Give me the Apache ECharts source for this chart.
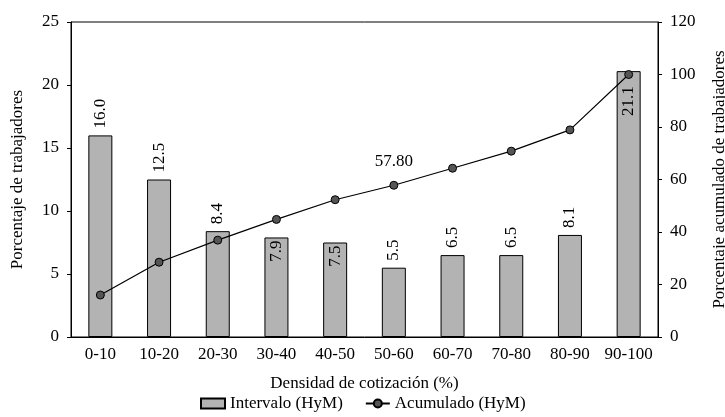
<!DOCTYPE html>
<html><head><meta charset="utf-8">
<script src="https://cdn.jsdelivr.net/npm/echarts@6/dist/echarts.min.js"></script>
<style>html,body{margin:0;padding:0;background:#fff}#c{width:725px;height:417px}</style>
</head><body><div id="c"></div>
<script>
const categories = ['0-10','10-20','20-30','30-40','40-50','50-60','60-70','70-80','80-90','90-100'];
const intervalo = [16.0, 12.5, 8.4, 7.9, 7.5, 5.5, 6.5, 6.5, 8.1, 21.1];
const acumulado = [16.0, 28.5, 36.9, 44.8, 52.3, 57.8, 64.3, 70.8, 78.9, 100.0];
const leftTicks = [0, 5, 10, 15, 20, 25];
const rightTicks = [0, 20, 40, 60, 80, 100, 120];
const insideLabelIdx = {3: 3, 4: 3, 9: 15};
const lineLabelIdx = [5];

const FONT = 'Liberation Serif';
const FS = 17;
const chart = echarts.init(document.getElementById('c'));
const barData = intervalo.map((v, i) => {
  if (insideLabelIdx[i] !== undefined) {
    return {value: v, label: {position: 'insideTop', align: 'right', distance: insideLabelIdx[i]}};
  }
  return v;
});
const lineData = acumulado.map((v, i) => lineLabelIdx.includes(i) ? {value: v, label: {show: true}} : v);

chart.setOption({
  animation: false,
  textStyle: {fontFamily: FONT, color: '#000'},
  grid: {left: 71, right: 67, top: 22, bottom: 80, containLabel: false, outerBoundsMode: 'none',
    show: true, borderColor: '#000', borderWidth: 1, backgroundColor: 'transparent'},
  legend: {
    bottom: 5, left: 200, padding: 0, itemWidth: 24, itemHeight: 10, itemGap: 22,
    textStyle: {fontFamily: FONT, fontSize: FS, color: '#000'},
    data: [
      {name: 'Intervalo (HyM)', icon: 'rect'},
      {name: 'Acumulado (HyM)'}
    ]
  },
  xAxis: {
    type: 'category', data: categories, boundaryGap: true,
    name: 'Densidad de cotización (%)', nameLocation: 'middle', nameGap: 38,
    nameTextStyle: {fontFamily: FONT, fontSize: FS, color: '#000'},
    axisLine: {lineStyle: {color: '#000', width: 1}},
    axisTick: {inside: true, length: 4, lineStyle: {color: '#000'}},
    axisLabel: {fontFamily: FONT, fontSize: FS, color: '#000', margin: 9, interval: 0}
  },
  yAxis: [
    {
      type: 'value', min: 0, max: 25, interval: 5,
      name: 'Porcentaje de trabajadores', nameLocation: 'middle', nameGap: 45, nameRotate: 90,
      nameTextStyle: {fontFamily: FONT, fontSize: FS, color: '#000'},
      axisLine: {show: true, lineStyle: {color: '#000', width: 1}},
      axisTick: {show: true, length: 4, lineStyle: {color: '#000'}},
      axisLabel: {fontFamily: FONT, fontSize: FS, color: '#000', margin: 12, formatter: v => leftTicks.includes(v) ? String(v) : ''},
      splitLine: {show: false}
    },
    {
      type: 'value', min: 0, max: 120, interval: 20, position: 'right',
      name: 'Porcentaje acumulado de trabajadores', nameLocation: 'middle', nameGap: 53, nameRotate: 90,
      nameTextStyle: {fontFamily: FONT, fontSize: FS, color: '#000'},
      axisLine: {show: true, lineStyle: {color: '#000', width: 1}},
      axisTick: {show: true, length: 4, lineStyle: {color: '#000'}},
      axisLabel: {fontFamily: FONT, fontSize: FS, color: '#000', margin: 12, formatter: v => rightTicks.includes(v) ? String(v) : ''},
      splitLine: {show: false}
    }
  ],
  series: [
    {
      name: 'Intervalo (HyM)', type: 'bar', yAxisIndex: 0, data: barData, barWidth: 24,
      itemStyle: {color: '#b3b3b3', borderColor: '#000', borderWidth: 1},
      label: {
        show: true, position: 'top', rotate: 90, align: 'left', verticalAlign: 'middle', distance: 7,
        fontFamily: FONT, fontSize: FS, color: '#000',
        formatter: p => p.value.toFixed(1)
      },
      z: 2
    },
    {
      name: 'Acumulado (HyM)', type: 'line', yAxisIndex: 1, data: lineData,
      symbol: 'circle', symbolSize: 8,
      lineStyle: {color: '#000', width: 1.2},
      itemStyle: {color: '#555', borderColor: '#000', borderWidth: 1},
      label: {show: false, position: 'top', distance: 11, fontFamily: FONT, fontSize: FS, color: '#000',
        formatter: p => p.value.toFixed(2)},
      z: 3
    }
  ]
});
</script>
</body></html>
